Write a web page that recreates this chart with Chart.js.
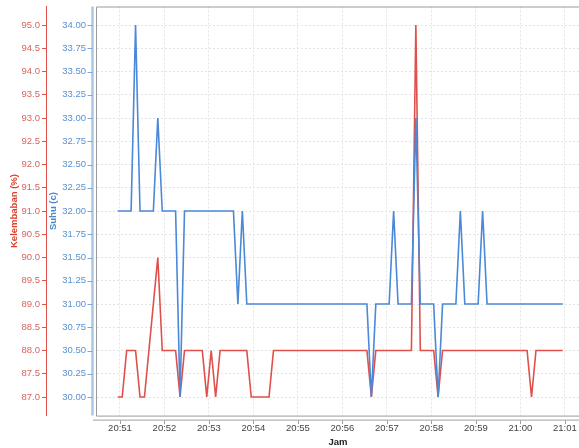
<!DOCTYPE html>
<html>
<head>
<meta charset="utf-8">
<script src="https://cdn.jsdelivr.net/npm/chart.js@4"></script>
<style>
  body { margin: 0; background: #fff; }
  canvas { display: block; }
</style>
</head>
<body>
<canvas id="chart" width="579" height="448"></canvas>
<script>
// waktu sampel (tiap ~6 detik)
const times = [
  '20:50:57',
  '20:51:03', '20:51:09', '20:51:15', '20:51:21', '20:51:27', '20:51:33', '20:51:39', '20:51:45', '20:51:51', '20:51:57',
  '20:52:03', '20:52:09', '20:52:15', '20:52:21', '20:52:27', '20:52:33', '20:52:39', '20:52:45', '20:52:51', '20:52:57',
  '20:53:03', '20:53:09', '20:53:15', '20:53:21', '20:53:27', '20:53:33', '20:53:39', '20:53:45', '20:53:51', '20:53:57',
  '20:54:03', '20:54:09', '20:54:15', '20:54:21', '20:54:27', '20:54:33', '20:54:39', '20:54:45', '20:54:51', '20:54:57',
  '20:55:03', '20:55:09', '20:55:15', '20:55:21', '20:55:27', '20:55:33', '20:55:39', '20:55:45', '20:55:51', '20:55:57',
  '20:56:03', '20:56:09', '20:56:15', '20:56:21', '20:56:27', '20:56:33', '20:56:39', '20:56:45', '20:56:51', '20:56:57',
  '20:57:03', '20:57:09', '20:57:15', '20:57:21', '20:57:27', '20:57:33', '20:57:39', '20:57:45', '20:57:51', '20:57:57',
  '20:58:03', '20:58:09', '20:58:15', '20:58:21', '20:58:27', '20:58:33', '20:58:39', '20:58:45', '20:58:51', '20:58:57',
  '20:59:03', '20:59:09', '20:59:15', '20:59:21', '20:59:27', '20:59:33', '20:59:39', '20:59:45', '20:59:51', '20:59:57',
  '21:00:03', '21:00:09', '21:00:15', '21:00:21', '21:00:27', '21:00:33', '21:00:39', '21:00:45', '21:00:51', '21:00:57'
];

const suhu = [
  32,
  32, 32, 32, 34, 32, 32, 32, 32, 33, 32,
  32, 32, 32, 30, 32, 32, 32, 32, 32, 32,
  32, 32, 32, 32, 32, 32, 31, 32, 31, 31,
  31, 31, 31, 31, 31, 31, 31, 31, 31, 31,
  31, 31, 31, 31, 31, 31, 31, 31, 31, 31,
  31, 31, 31, 31, 31, 31, 30, 31, 31, 31,
  31, 32, 31, 31, 31, 31, 33, 31, 31, 31,
  31, 30, 31, 31, 31, 31, 32, 31, 31, 31,
  31, 32, 31, 31, 31, 31, 31, 31, 31, 31,
  31, 31, 31, 31, 31, 31, 31, 31, 31, 31
];

const kelembaban = [
  87,
  87, 88, 88, 88, 87, 87, 88, 89, 90, 88,
  88, 88, 88, 87, 88, 88, 88, 88, 88, 87,
  88, 87, 88, 88, 88, 88, 88, 88, 88, 87,
  87, 87, 87, 87, 88, 88, 88, 88, 88, 88,
  88, 88, 88, 88, 88, 88, 88, 88, 88, 88,
  88, 88, 88, 88, 88, 88, 87, 88, 88, 88,
  88, 88, 88, 88, 88, 88, 95, 88, 88, 88,
  88, 87, 88, 88, 88, 88, 88, 88, 88, 88,
  88, 88, 88, 88, 88, 88, 88, 88, 88, 88,
  88, 88, 87, 88, 88, 88, 88, 88, 88, 88
];

const xTickLabels = ['20:51', '20:52', '20:53', '20:54', '20:55', '20:56', '20:57', '20:58', '20:59', '21:00', '21:01'];
const suhuTicks = [30, 30.25, 30.5, 30.75, 31, 31.25, 31.5, 31.75, 32, 32.25, 32.5, 32.75, 33, 33.25, 33.5, 33.75, 34];
const kelembabanTicks = [87, 87.5, 88, 88.5, 89, 89.5, 90, 90.5, 91, 91.5, 92, 92.5, 93, 93.5, 94, 94.5, 95];

const toSec = (t) => {
  const p = t.split(':').map(Number);
  return p[0] * 3600 + p[1] * 60 + (p[2] || 0);
};
const fmt = (s) => {
  const h = Math.floor(s / 3600);
  const m = Math.round((s - h * 3600) / 60);
  return String(h).padStart(2, '0') + ':' + String(m).padStart(2, '0');
};

const RED = '#e0504a';
const BLUE = '#4a88d8';
const t0 = toSec(xTickLabels[0]);

// label ujung jangan menggeser area plot
const noPad = s => { s.paddingTop = 0; s.paddingBottom = 0; s.paddingLeft = 0; s.paddingRight = 0; };

// garis sumbu ala JFreeChart (offset dari area plot)
const axisDecor = {
  id: 'axisDecor',
  afterDraw(chart) {
    const { ctx, chartArea: a, scales } = chart;
    ctx.save();
    // bingkai plot
    ctx.strokeStyle = '#9a9a9a';
    ctx.lineWidth = 1;
    ctx.beginPath();
    ctx.moveTo(a.right + 1, a.top + 0.5);
    ctx.lineTo(a.left - 0.5, a.top + 0.5);
    ctx.lineTo(a.left - 0.5, a.bottom + 0.5);
    ctx.lineTo(a.right + 1, a.bottom + 0.5);
    ctx.stroke();
    // sumbu suhu
    const bx = a.left - 4.5;
    ctx.strokeStyle = '#a9c8e6';
    ctx.lineWidth = 2.5;
    ctx.beginPath();
    ctx.moveTo(bx, a.top);
    ctx.lineTo(bx, a.bottom);
    ctx.stroke();
    ctx.strokeStyle = '#7ea8da';
    ctx.lineWidth = 1;
    scales.y1.ticks.forEach(t => {
      const y = Math.round(scales.y1.getPixelForValue(t.value)) + 0.5;
      ctx.beginPath();
      ctx.moveTo(bx - 5, y);
      ctx.lineTo(bx, y);
      ctx.stroke();
    });
    // sumbu waktu
    const ay = a.bottom + 4.5;
    ctx.strokeStyle = '#a0a0a0';
    ctx.beginPath();
    ctx.moveTo(a.left - 4, ay);
    ctx.lineTo(a.right, ay);
    ctx.stroke();
    scales.x.ticks.forEach(t => {
      const x = Math.round(scales.x.getPixelForValue(t.value)) + 0.5;
      ctx.beginPath();
      ctx.moveTo(x, ay);
      ctx.lineTo(x, ay + 4);
      ctx.stroke();
    });
    ctx.restore();
  }
};

new Chart(document.getElementById('chart'), {
  type: 'line',
  data: {
    datasets: [{
      label: 'Suhu (c)',
      data: times.map((t, i) => ({ x: toSec(t), y: suhu[i] })),
      borderColor: BLUE,
      borderWidth: 1.6,
      pointRadius: 0,
      tension: 0,
      yAxisID: 'y1'
    }, {
      label: 'Kelembaban (%)',
      data: times.map((t, i) => ({ x: toSec(t), y: kelembaban[i] })),
      borderColor: RED,
      borderWidth: 1.6,
      pointRadius: 0,
      tension: 0,
      yAxisID: 'y'
    }]
  },
  options: {
    responsive: false,
    animation: false,
    layout: { padding: { top: 6.5, right: 0, bottom: 0, left: 0 } },
    plugins: {
      legend: { display: false },
      tooltip: { enabled: false }
    },
    scales: {
      x: {
        type: 'linear',
        min: t0 - 31,
        max: t0 + 619,
        afterBuildTicks: s => { s.ticks = xTickLabels.map(l => ({ value: toSec(l) })); },
        afterFit: s => { s.height = 32.4; noPad(s); },
        grid: { color: '#e4e4e4', drawTicks: false },
        border: { display: false, dash: [2, 2] },
        ticks: {
          padding: 7.5,
          color: '#444',
          font: { family: 'Liberation Sans', size: 9.5 },
          maxRotation: 0,
          callback: v => fmt(v)
        },
        title: {
          display: true,
          text: 'Jam',
          color: '#222',
          padding: { top: 0, bottom: 0 },
          font: { family: 'Liberation Sans', size: 9.5, weight: 'bold' }
        }
      },
      y: {
        position: 'left',
        weight: 2,
        min: 86.6,
        max: 95.4,
        afterBuildTicks: s => { s.ticks = kelembabanTicks.map(v => ({ value: v })); },
        afterFit: s => { s.width = 46; noPad(s); },
        grid: { drawOnChartArea: false, drawTicks: true, tickLength: 4, tickColor: RED },
        border: { display: true, color: RED, width: 1 },
        ticks: {
          padding: 2,
          color: '#d9645e',
          font: { family: 'Liberation Sans', size: 9.5 },
          callback: v => v.toFixed(1)
        },
        title: {
          display: true,
          text: 'Kelembaban (%)',
          color: '#d9412f',
          padding: { top: 9, bottom: 0 },
          font: { family: 'Liberation Sans', size: 9.5, weight: 'bold' }
        }
      },
      y1: {
        position: 'left',
        weight: 1,
        min: 29.8,
        max: 34.2,
        afterBuildTicks: s => { s.ticks = suhuTicks.map(v => ({ value: v })); },
        afterFit: s => { s.width = 51; noPad(s); },
        grid: { color: '#e4e4e4', drawTicks: false },
        border: { display: false, dash: [2, 2] },
        ticks: {
          padding: 11,
          color: '#5a90d2',
          font: { family: 'Liberation Sans', size: 9.5 },
          callback: v => v.toFixed(2)
        },
        title: {
          display: true,
          text: 'Suhu (c)',
          color: '#4a86cc',
          padding: { top: 2, bottom: 0 },
          font: { family: 'Liberation Sans', size: 9.5, weight: 'bold' }
        }
      }
    }
  },
  plugins: [axisDecor]
});
</script>
</body>
</html>
